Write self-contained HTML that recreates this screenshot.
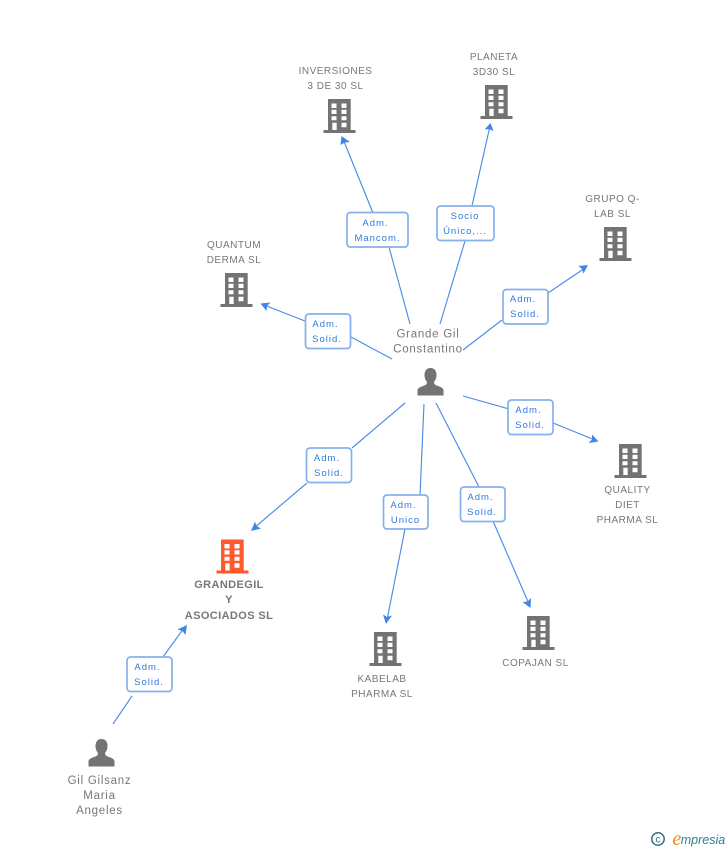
<!DOCTYPE html>
<html><head><meta charset="utf-8"><style>
html,body{margin:0;padding:0;background:#fff}
svg{display:block}
text{font-family:"Liberation Sans",sans-serif;font-size:10px;fill:#777;text-anchor:middle;letter-spacing:.5px}
.l text{fill:#2f7ae0;font-size:9.5px;letter-spacing:1px}
.e line{stroke:#4a8ce8;stroke-width:1.15}
.e path{fill:#3f86e6;stroke:none}
.l rect{fill:#fff;stroke:#85b0ec;stroke-width:1.7}
.p{font-size:11.5px;letter-spacing:.75px}
.m{font-weight:bold;font-size:11px;letter-spacing:.4px}
</style></head><body>
<svg width="728" height="850" viewBox="0 0 728 850" xmlns="http://www.w3.org/2000/svg">
<defs>
<symbol id="bd" width="32" height="34" viewBox="0 0 32 34" overflow="visible">
<path fill-rule="evenodd" d="M4.5 0H27.2V31H32V34H0V31H4.5ZM8 4.5V9H13V4.5ZM18 4.5V9H23V4.5ZM8 10.7V15H13V10.7ZM18 10.7V15H23V10.7ZM8 17.3V21.3H13V17.3ZM18 17.3V21.3H23V17.3ZM8.800 23.700V31H13.200V23.700ZM18 23.700V28.300H23V23.700Z"/>
</symbol>
<symbol id="pr" width="27" height="28" viewBox="0 0 27 28" overflow="visible">
<path d="M13.500 0C9.500 0 7.500 3 7.500 7C7.500 10 8.700 12.500 10 14C10 15.500 9.500 16.500 8 17.200C4.500 18.500 1 19.500 .5 22V27.500H26.500V22C26 19.500 22.500 18.500 19 17.200C17.500 16.500 17 15.500 17 14C18.300 12.500 19.500 10 19.500 7C19.500 3 17.500 0 13.500 0Z"/>
</symbol>
</defs>

<g class="e">
<line x1="373" y1="213" x2="343" y2="139"/><path d="M341.500 136L350 142L345 142.500L340.500 145Z"/>
<line x1="389" y1="247" x2="410" y2="324"/>
<line x1="472" y1="206" x2="490" y2="126"/><path d="M490.500 123L493.500 131L489 129L484.500 129.500Z"/>
<line x1="465" y1="241" x2="440" y2="324"/>
<line x1="548" y1="293" x2="585" y2="268"/><path d="M588 265L583.500 273.500L582 269L578.500 266Z"/>
<line x1="502" y1="320" x2="463" y2="350"/>
<line x1="305" y1="321" x2="264" y2="305"/><path d="M260.500 303.500L270.500 302.500L267 306L266.500 311Z"/>
<line x1="351" y1="337" x2="392" y2="359"/>
<line x1="553" y1="423" x2="595" y2="440"/><path d="M598.500 441.500L588.500 443L592 439.500L592 434.500Z"/>
<line x1="509" y1="409" x2="463" y2="396"/>
<line x1="493" y1="521" x2="529" y2="604"/><path d="M530.500 608L522.500 602L527.500 601.500L531 598Z"/>
<line x1="479" y1="487" x2="436" y2="403"/>
<line x1="405" y1="529" x2="387" y2="620"/><path d="M386 624L383 614.500L387 617L392 615.500Z"/>
<line x1="424" y1="404" x2="420" y2="495"/>
<line x1="307" y1="483" x2="254" y2="528"/><path d="M251 531L255 521.500L256.500 526L261 528.500Z"/>
<line x1="352" y1="448" x2="405" y2="403"/>
<line x1="132" y1="696" x2="113" y2="724"/>
<line x1="163" y1="657" x2="184" y2="628"/><path d="M187 625L185.500 635L182.500 631L177.500 629.500Z"/>
</g>

<g fill="#737373">
<use href="#bd" x="323.500" y="99"/>
<use href="#bd" x="480.500" y="85"/>
<use href="#bd" x="599.500" y="227"/>
<use href="#bd" x="220.500" y="273"/>
<use href="#bd" x="614.500" y="444"/>
<use href="#bd" x="522.500" y="616"/>
<use href="#bd" x="369.500" y="632"/>
<use href="#pr" x="417" y="368"/>
<use href="#pr" x="88" y="739"/>
</g>
<use href="#bd" x="216.500" y="539.500" fill="#ff5a2c"/>

<g class="l">
<rect x="347" y="212.500" width="61" height="34.500" rx="3.500"/><text x="375.500" y="226">Adm.</text><text x="377.500" y="241">Mancom.</text>
<rect x="437" y="206" width="57" height="34.500" rx="3.500"/><text x="465" y="219">Socio</text><text x="465" y="234">Único,...</text>
<rect x="503" y="289.500" width="45" height="34.500" rx="3.500"/><text x="523" y="302">Adm.</text><text x="525" y="317">Solid.</text>
<rect x="305.500" y="314" width="45" height="34.500" rx="3.500"/><text x="325.500" y="327">Adm.</text><text x="327" y="342">Solid.</text>
<rect x="508" y="400" width="45" height="34.500" rx="3.500"/><text x="528.500" y="413">Adm.</text><text x="530" y="428">Solid.</text>
<rect x="460.500" y="487" width="44.500" height="34.500" rx="3.500"/><text x="480.500" y="500">Adm.</text><text x="482" y="515">Solid.</text>
<rect x="383.500" y="495" width="44.500" height="34" rx="3.500"/><text x="403.500" y="508">Adm.</text><text x="405.500" y="523">Unico</text>
<rect x="306.500" y="448" width="45" height="34.500" rx="3.500"/><text x="327" y="461">Adm.</text><text x="329" y="476">Solid.</text>
<rect x="127" y="657" width="45" height="34.500" rx="3.500"/><text x="147.500" y="670">Adm.</text><text x="149" y="685">Solid.</text>
</g>

<text x="335.500" y="74">INVERSIONES</text><text x="335.500" y="89">3 DE 30 SL</text>
<text x="494" y="60">PLANETA</text><text x="494" y="75">3D30 SL</text>
<text x="612.500" y="202">GRUPO Q-</text><text x="612.500" y="217">LAB SL</text>
<text x="234" y="248">QUANTUM</text><text x="234" y="263">DERMA SL</text>
<text class="p" x="428" y="337.500">Grande Gil</text><text class="p" x="428" y="352.500">Constantino</text>
<text x="627.500" y="493">QUALITY</text><text x="627.500" y="508">DIET</text><text x="627.500" y="523">PHARMA SL</text>
<text x="535.500" y="666">COPAJAN SL</text>
<text x="382" y="682">KABELAB</text><text x="382" y="697">PHARMA SL</text>
<text class="m" x="229" y="588">GRANDEGIL</text><text class="m" x="229" y="603">Y</text><text class="m" x="229" y="619">ASOCIADOS SL</text>
<text class="p" x="99.500" y="784">Gil Gilsanz</text><text class="p" x="99.500" y="799">Maria</text><text class="p" x="99.500" y="814">Angeles</text>

<circle cx="658" cy="839" r="6.200" fill="none" stroke="#2f6f80" stroke-width="1.500"/>
<text x="658" y="842.500" style="font-size:10px;fill:#2f6f80;letter-spacing:0">c</text>
<text x="677" y="845" style="font-family:'Liberation Serif',serif;font-style:italic;font-size:20px;fill:#f08a1d;letter-spacing:0">e</text>
<text x="703" y="844" style="font-style:italic;font-size:12.500px;fill:#2f7f8e;letter-spacing:0">mpresia</text>
</svg>
</body></html>
